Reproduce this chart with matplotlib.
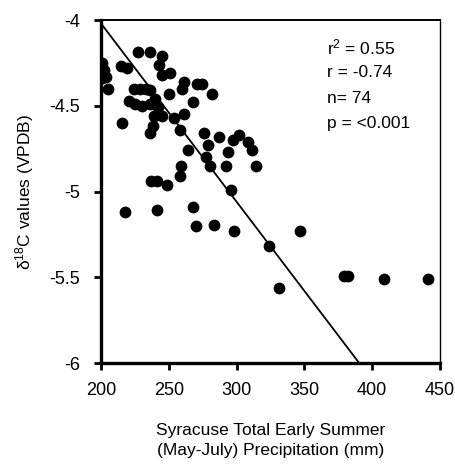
import matplotlib
matplotlib.use("Agg")
import matplotlib.pyplot as plt
import numpy as np

plt.rcParams["font.family"] = ["Liberation Sans", "DejaVu Sans"]
plt.rcParams["mathtext.fontset"] = "custom"
plt.rcParams["mathtext.rm"] = "Liberation Sans"
plt.rcParams["mathtext.it"] = "Liberation Sans:italic"

# early summer precipitation (mm) and d18O (VPDB)
precip = [
    201, 202, 200, 204, 201, 205, 215, 219, 227, 236, 245, 243, 245, 251, 250,
    261, 259.5, 224, 229, 233, 236, 221, 225, 230, 236, 240, 242, 239, 245,
    238, 236, 215.5, 254, 261, 258, 264, 259, 258, 237, 241, 249, 218, 241,
    270.7, 274.4, 281.7, 268, 276, 287, 297, 302, 308.5, 311, 279, 293.4,
    277.6, 280.5, 292, 314.6, 296, 268, 270, 283, 298, 347, 324, 331,
    379, 382, 408.5, 441,
]
d18o = [
    -4.25, -4.29, -4.30, -4.33, -4.34, -4.40, -4.27, -4.28, -4.185, -4.185,
    -4.21, -4.26, -4.32, -4.31, -4.43, -4.36, -4.40, -4.40, -4.40, -4.40,
    -4.41, -4.47, -4.49, -4.50, -4.49, -4.46, -4.51, -4.56, -4.56, -4.62,
    -4.66, -4.60, -4.57, -4.55, -4.64, -4.76, -4.85, -4.91, -4.94, -4.94,
    -4.96, -5.12, -5.11,
    -4.373, -4.373, -4.43, -4.48, -4.66, -4.68, -4.70, -4.67, -4.71, -4.76,
    -4.73, -4.77, -4.80, -4.85, -4.85, -4.85, -4.99, -5.09, -5.20, -5.195,
    -5.23, -5.23, -5.32, -5.56, -5.495, -5.495, -5.51, -5.51,
]

# least-squares trend line
trend_slope = -0.0104
trend_intercept = -1.94

stats_lines = ["r$^2$ = 0.55", "r = -0.74", "n= 74", "p = <0.001"]

xticks = [200, 250, 300, 350, 400, 450]
yticks = [-6, -5.5, -5, -4.5, -4]

fig = plt.figure(figsize=(4.56, 4.66), dpi=100)
ax = fig.add_axes([0.2215, 0.221, 0.7435, 0.736])

ax.scatter(precip, d18o, s=72, color="black", zorder=3, linewidths=0)

xs = np.array([200, 450])
ax.plot(xs, trend_intercept + trend_slope * xs, color="black", lw=1.3, zorder=2)

ax.set_xlim(200, 450)
ax.set_ylim(-6, -4)
ax.set_xticks(xticks)
ax.set_yticks(yticks)
ax.set_xticklabels([str(t) for t in xticks])
ax.set_yticklabels(["-6", "-5.5", "-5", "-4.5", "-4"])

ax.spines["left"].set_linewidth(2.4)
ax.spines["bottom"].set_linewidth(2.4)
ax.spines["top"].set_linewidth(1.4)
ax.spines["right"].set_linewidth(1.0)

ax.tick_params(axis="both", direction="out", length=5, width=2, labelsize=13)
ax.tick_params(axis="x", pad=9)
ax.tick_params(axis="y", pad=10)

ax.set_xlabel("Syracuse Total Early Summer\n(May-July) Precipitation (mm)",
              fontsize=12.5, labelpad=17, linespacing=1.45)
ax.set_ylabel("δ$^{18}$C values (VPDB)", fontsize=12.5, labelpad=10)

for i, line in enumerate(stats_lines):
    ax.text(367, -4.16 - 0.148 * i, line, fontsize=12.5, va="center", ha="left")

fig.savefig("out.png", dpi=100)
